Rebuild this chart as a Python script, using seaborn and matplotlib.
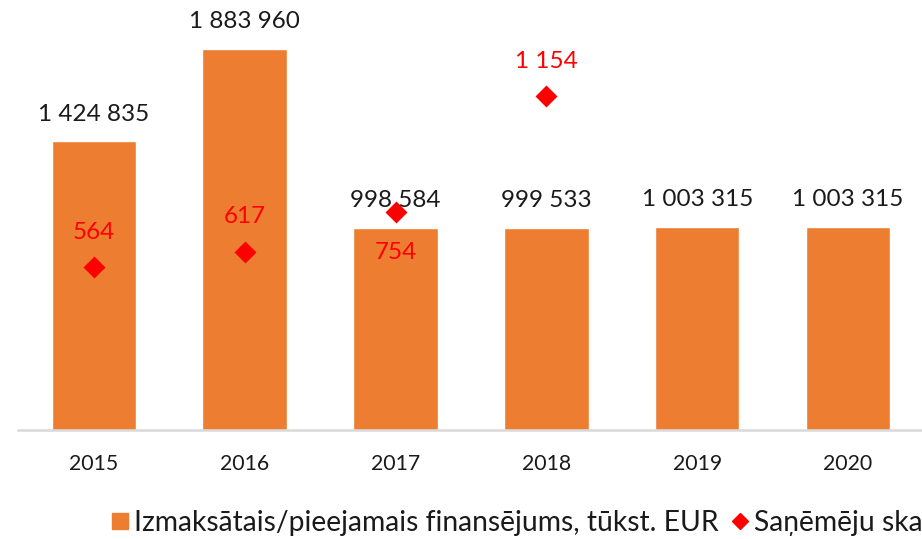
import matplotlib
matplotlib.use("Agg")
import matplotlib.pyplot as plt
from matplotlib.lines import Line2D
import pandas as pd
import seaborn as sns

# -------------------------------
# data
# -------------------------------
years = ["2015", "2016", "2017", "2018", "2019", "2020"]
funding = [1424835, 1883960, 998584, 999533, 1003315, 1003315]
recipient_years = ["2015", "2016", "2017", "2018"]
recipients = [564, 617, 754, 1154]

bar_label = "Izmaksātais/pieejamais finansējums, tūkst. EUR"
point_label = "Saņēmēju skaits"

ORANGE = "#ED7D31"
RED = "#FF0000"

sns.set_theme(style="white")
plt.rcParams["font.family"] = ["Lato", "DejaVu Sans"]

df_bars = pd.DataFrame({"year": years, "funding": funding})
df_pts = pd.DataFrame({"year": recipient_years, "recipients": recipients})


def fmt(v):
    return f"{int(v):,}".replace(",", " ")


fig = plt.figure(figsize=(9.22, 5.39), dpi=100)
ax = fig.add_axes([0.020, 0.2022, 0.9816, 0.7514])

sns.barplot(data=df_bars, x="year", y="funding", order=years,
            color=ORANGE, saturation=1, width=0.56, ax=ax)
ax.bar_label(ax.containers[0], labels=[fmt(v) for v in funding],
             padding=12, fontsize=17.5, color="#1a1a1a")
ax.set_ylim(0, 2000000)

# -------------------------------
# secondary axis: recipients
# -------------------------------
ax2 = ax.twinx()
sns.pointplot(data=df_pts, x="year", y="recipients", order=years,
              color=RED, markers="D", linestyle="none", markersize=9,
              ax=ax2)
ax2.set_ylim(0, 1400)

offsets = [25, 25, -29, 25]
for i, (yr, val) in enumerate(zip(recipient_years, recipients)):
    ax2.annotate(fmt(val), (years.index(yr), val), xytext=(0, offsets[i]),
                 textcoords="offset points", ha="center", va="center",
                 fontsize=17.5, color=RED)

ax.set_xlim(-0.5, 5.5)
for a in (ax, ax2):
    a.set_xlabel("")
    a.set_ylabel("")
    a.set_yticks([])
    for s in a.spines.values():
        s.set_visible(False)
ax.spines["bottom"].set_visible(True)
ax.spines["bottom"].set_color("#D9D9D9")
ax.spines["bottom"].set_linewidth(1.8)
ax.tick_params(axis="x", length=0, pad=17, labelsize=15.3, labelcolor="#1a1a1a")

# legend runs off the right edge, as in the reference
handles = [
    Line2D([], [], marker="s", color=ORANGE, linestyle="none", markersize=12),
    Line2D([], [], marker="D", color=RED, linestyle="none", markersize=8),
]
fig.legend(handles, [bar_label, point_label], loc="center left",
           bbox_to_anchor=(0.11, 0.03), ncol=2, frameon=False,
           fontsize=20.3, handlelength=0.5, handletextpad=0.25,
           columnspacing=0.5, labelcolor="#1a1a1a", borderaxespad=0)

fig.savefig("out.png", dpi=100)
